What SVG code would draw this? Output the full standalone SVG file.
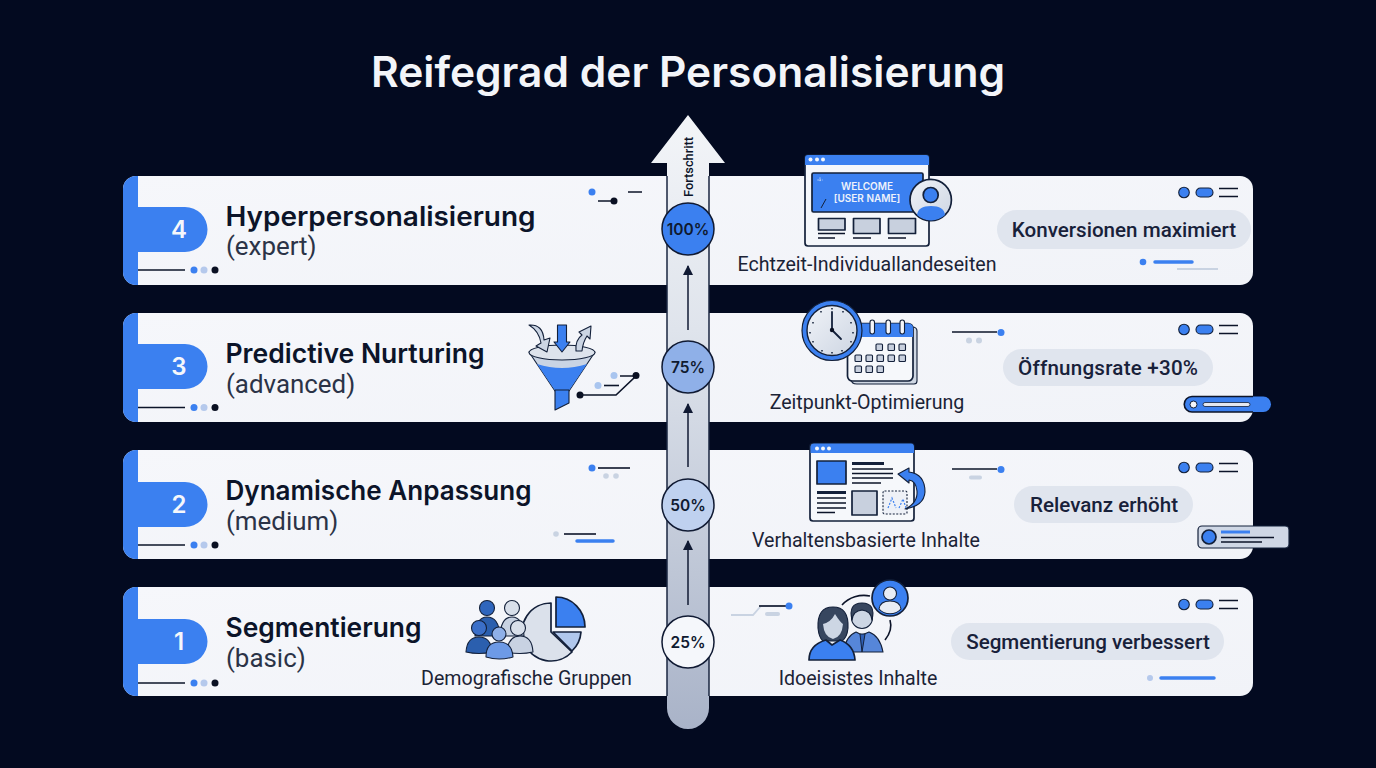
<svg xmlns="http://www.w3.org/2000/svg" xmlns:xlink="http://www.w3.org/1999/xlink" width="1376" height="768" viewBox="0 0 1376 768">
<style>
text{font-family:"Inter","Liberation Sans",sans-serif;fill:#0c1429}
.title{font-size:42.5px;font-weight:600;fill:#f3f5f9;text-anchor:middle}
.h{font-size:27px;font-weight:600}
.sub{font-family:"Roboto","Liberation Sans",sans-serif;font-size:25.9px;fill:#2b3347}
.cap{font-family:"Roboto","Liberation Sans",sans-serif;font-size:19.6px;text-anchor:middle;fill:#1b2336}
.res{font-family:"Roboto","Liberation Sans",sans-serif;font-size:20.6px;font-weight:500;text-anchor:middle;fill:#18213a}
.num{font-size:24px;font-weight:600;fill:#f5f7fb;text-anchor:middle}
.pct{font-size:15.5px;font-weight:600;text-anchor:middle;fill:#0f1a30}
.card{fill:url(#cardG)}
.pill{fill:#e0e5ee}
.blue{fill:#3b80f0}
.ln{stroke:#0c1429;stroke-width:1.6;fill:none}
.lnb{stroke:#3b80f0;stroke-width:3.5;stroke-linecap:round;fill:none}
.lnl{stroke:#c9d3e2;stroke-width:1.8;fill:none}
.ic{stroke:#13203a;stroke-width:1.7;stroke-linejoin:round}
.th{stroke-width:1.1}
.dk{fill:#0a1022}
.l1{fill:#3b80f0}.l2{fill:#b5c9ec}.l3{fill:#c8d0de}
</style>
<defs>
<linearGradient id="cardG" x1="0" y1="0" x2="1" y2="1"><stop offset="0" stop-color="#f6f7fb"/><stop offset="1" stop-color="#f1f3f8"/></linearGradient>
<linearGradient id="stem" x1="0" y1="0" x2="0" y2="1"><stop offset="0" stop-color="#f3f5f8"/><stop offset=".35" stop-color="#dfe4ec"/><stop offset="1" stop-color="#a9b3c8"/></linearGradient>
<linearGradient id="cg" x1="0" y1="0" x2="1" y2="1"><stop offset="0" stop-color="#f0f3f8"/><stop offset="1" stop-color="#cdd5e2"/></linearGradient>
<marker id="ah" markerWidth="12" markerHeight="10" refX="9" refY="5" orient="auto" markerUnits="userSpaceOnUse"><path d="M0 0L10 5L0 10Z" fill="#101a33"/></marker>
<g id="tabs"><circle cx="0" cy="0" r="5.300" class="l1 ic th"/><rect x="12" y="-4.500" width="17" height="9" rx="4.500" class="l1 ic th"/><path d="M35-4H54M35 4H54" class="ln"/></g>
<g id="foot"><path d="M138 0H185" class="ln"/><circle cx="194" cy="0" r="3.500" fill="#3b80f0"/><circle cx="204" cy="0" r="3.500" fill="#b5c9ec"/><circle cx="215" cy="0" r="3.500" fill="#0a1022"/></g>
</defs>
<rect width="1376" height="768" fill="#030a20"/>
<text class="title" x="688" y="87">Reifegrad der Personalisierung</text>

<g id="row4">
<rect class="card" x="123" y="176" width="1130" height="109" rx="13"/>
<path class="blue" d="M138 176H136A13 13 0 0 0 123 189V272A13 13 0 0 0 136 285H138V252H185A22.500 22.500 0 0 0 185 207H138Z"/>
<text class="num" x="179" y="238">4</text>
<text class="h" x="225.500" y="225.500" textLength="310" lengthAdjust="spacingAndGlyphs">Hyperpersonalisierung</text>
<text class="sub" x="226" y="255">(expert)</text>
<use xlink:href="#foot" href="#foot" y="270"/>
<circle cx="592" cy="192" r="3.500" fill="#3b80f0"/><path d="M598 201H612M628 192H642" class="ln"/><circle cx="614" cy="201" r="3.500" class="dk"/>
<use xlink:href="#tabs" href="#tabs" x="1184" y="192.500"/>
<rect class="pill" x="997" y="210" width="254" height="39" rx="19.500"/>
<text class="res" x="1124" y="237">Konversionen maximiert</text>
<circle cx="1143" cy="262" r="3.300" fill="#3b80f0"/><path d="M1155 262H1192" class="lnb"/><path d="M1177 269H1218" class="lnl"/>
</g>

<g id="row3">
<rect class="card" x="123" y="313" width="1130" height="109" rx="13"/>
<path class="blue" d="M138 313H136A13 13 0 0 0 123 326V409A13 13 0 0 0 136 422H138V389H185A22.500 22.500 0 0 0 185 344H138Z"/>
<text class="num" x="179" y="375">3</text>
<text class="h" x="225.500" y="362.500" textLength="259" lengthAdjust="spacingAndGlyphs">Predictive Nurturing</text>
<text class="sub" x="226" y="392.500">(advanced)</text>
<use xlink:href="#foot" href="#foot" y="407.500"/>
<use xlink:href="#tabs" href="#tabs" x="1184" y="329.500"/>
<rect class="pill" x="1003" y="349" width="210" height="37" rx="18.500"/>
<text class="res" x="1108" y="375" textLength="180">Öffnungsrate +30%</text>
<path d="M952 332H997" class="ln"/><circle cx="1001" cy="332.500" r="3.500" fill="#3b80f0"/><circle cx="969" cy="340.500" r="3" fill="#c9d3e2"/><circle cx="979" cy="340.500" r="3" fill="#c9d3e2"/>
<rect x="1184" y="396.500" width="87" height="15.500" rx="7.700" class="blue"/><path d="M1253 396.500H1192A7.700 7.700 0 0 0 1192 412H1253" class="ln" stroke-width="1.400"/><circle cx="1193.500" cy="404.500" r="3.500" fill="#f3f5f9" stroke="#13203a"/><rect x="1203" y="402.500" width="47" height="4" rx="2" fill="#e4e8f0" stroke="#13203a" stroke-width=".8"/>
</g>
<g id="row2">
<rect class="card" x="123" y="450" width="1130" height="109" rx="13"/>
<path class="blue" d="M138 450H136A13 13 0 0 0 123 463V546A13 13 0 0 0 136 559H138V527H185A22.500 22.500 0 0 0 185 482H138Z"/>
<text class="num" x="179" y="513">2</text>
<text class="h" x="225.500" y="499.500" textLength="306" lengthAdjust="spacingAndGlyphs">Dynamische Anpassung</text>
<text class="sub" x="226" y="529.500">(medium)</text>
<use xlink:href="#foot" href="#foot" y="545"/>
<circle cx="592" cy="468" r="3.500" fill="#3b80f0"/><path d="M598 468H630" class="ln"/><circle cx="606" cy="476" r="2.800" fill="#c9d3e2"/><circle cx="616" cy="476" r="2.800" fill="#c9d3e2"/>
<use xlink:href="#tabs" href="#tabs" x="1184" y="467.500"/>
<rect class="pill" x="1014" y="486" width="179" height="37" rx="18.500"/>
<text class="res" x="1104" y="512">Relevanz erhöht</text>
<path d="M952 469H997" class="ln"/><circle cx="1001" cy="469.500" r="3.500" fill="#3b80f0"/><rect x="969" y="475.500" width="13" height="4" rx="2" fill="#c9d3e2"/>
<circle cx="556" cy="534" r="2.800" fill="#c9d3e2"/><path d="M564 534H596" class="ln"/><path d="M577 541H613" class="lnb"/>
<rect x="1198" y="526" width="91" height="22" rx="4" fill="#cfd7e5" stroke="#13203a" stroke-width="1.200"/><circle cx="1209" cy="537" r="7" class="l1 ic"/><path d="M1221 532H1250" stroke="#3b80f0" stroke-width="3"/><path d="M1221 537.500H1274M1221 542H1262" class="ln" stroke-width="1.200"/>
</g>
<g id="row1">
<rect class="card" x="123" y="587" width="1130" height="109" rx="13"/>
<path class="blue" d="M138 587H136A13 13 0 0 0 123 600V683A13 13 0 0 0 136 696H138V664H185A22.500 22.500 0 0 0 185 619H138Z"/>
<text class="num" x="179" y="650">1</text>
<text class="h" x="225.500" y="636.500" textLength="196" lengthAdjust="spacingAndGlyphs">Segmentierung</text>
<text class="sub" x="226" y="667">(basic)</text>
<use xlink:href="#foot" href="#foot" y="683"/>
<use xlink:href="#tabs" href="#tabs" x="1184" y="604.500"/>
<rect class="pill" x="951" y="623" width="273" height="37" rx="18.500"/>
<text class="res" x="1088" y="649">Segmentierung verbessert</text>
<circle cx="1150" cy="678" r="3" fill="#b5c9ec"/><path d="M1161 678H1214" class="lnb"/>
<path d="M731 615H753L761 606H786" class="lnl"/><path d="M759 606H786" class="ln"/><circle cx="789" cy="606" r="3.500" fill="#3b80f0"/><rect x="765" y="612" width="15" height="4" rx="2" fill="#c9d3e2"/>
</g>

<g id="progress-arrow">
<path d="M667 708V163H651L688 115L725 163H709V708A21 21 0 0 1 667 708Z" fill="url(#stem)"/>
<path d="M667 176V696M709 176V696" fill="none" stroke="#1a2640" stroke-width="1.500"/>
<text transform="translate(692.500 197) rotate(-90)" textLength="60" lengthAdjust="spacingAndGlyphs" style="font-family:Roboto,sans-serif;font-size:13px;font-weight:500">Fortschritt</text>
</g>
<g id="connectors">
<path d="M688 330V266" stroke="#101a33" stroke-width="1.500" marker-end="url(#ah)"/>
<path d="M688 467V404" stroke="#101a33" stroke-width="1.500" marker-end="url(#ah)"/>
<path d="M688 605V541" stroke="#101a33" stroke-width="1.500" marker-end="url(#ah)"/>
</g>
<g id="m100"><circle cx="688" cy="229" r="26" fill="#3b80f0" stroke="#101a33" stroke-width="1.500"/><text class="pct" x="688" y="234.500">100%</text></g>
<g id="m75"><circle cx="688" cy="367" r="26" fill="#8fb0e8" stroke="#101a33" stroke-width="1.500"/><text class="pct" x="688" y="372.500">75%</text></g>
<g id="m50"><circle cx="688" cy="505" r="26" fill="#bfd1ef" stroke="#101a33" stroke-width="1.500"/><text class="pct" x="688" y="510.500">50%</text></g>
<g id="m25"><circle cx="688" cy="642" r="26" fill="#f5f7fb" stroke="#101a33" stroke-width="1.500"/><text class="pct" x="688" y="647.500">25%</text></g>

<g id="icon-landing">
<rect x="805" y="155" width="124" height="91" rx="3" fill="#f5f7fb" class="ic"/>
<path d="M805 165V158Q805 155 808 155H926Q929 155 929 158V165Z" class="l1"/>
<circle cx="810.500" cy="159.500" r="2" fill="#f5f7fb"/><circle cx="817" cy="159.500" r="2" fill="#f5f7fb"/><circle cx="823" cy="159.500" r="2" fill="#f5f7fb"/>
<rect x="812" y="173" width="111" height="39" rx="1.500" class="l1 ic"/>
<path d="M820 177.500V182M817.500 180H822.500" stroke="#dbe6fb" stroke-width="1" stroke-dasharray="1.200 1"/><path d="M821 208L826 199" stroke="#13203a" stroke-width="1"/>
<text x="867" y="190" style="font-size:10px;font-weight:600;fill:#eef2fb;text-anchor:middle">WELCOME</text>
<text x="867" y="202" style="font-size:10px;font-weight:600;fill:#eef2fb;text-anchor:middle">[USER NAME]</text>
<rect x="818.500" y="218.500" width="26.500" height="11.500" class="l3 ic"/><rect x="853.500" y="218.500" width="26.500" height="15" class="l3 ic"/><rect x="888.500" y="218.500" width="27" height="15" class="l3 ic"/>
<path d="M818 233.500H845M818 238H835M853 238H871M888 238H906" class="ln"/>
<circle cx="930.700" cy="200" r="20.700" fill="url(#cg)" class="ic"/>
<circle cx="930.700" cy="195" r="7.500" class="l1 ic"/>
<path d="M917 215Q918 206 931 206Q944 206 945 215A20.700 20.700 0 0 1 917 215Z" class="l1"/>
</g>
<g id="icon-funnel">
<path d="M529 352H595L569 391H555Z" fill="#c9d4e4" class="ic th"/>
<path d="M537 364Q562 372 587 364L569 390.500H555Z" class="l1"/>
<ellipse cx="562" cy="352.500" rx="33" ry="7.500" fill="#dde3ec" class="ic th"/>
<path d="M555 390H569V403L555 410Z" class="l1 ic th"/>
<path d="M557.500 325H566.500V342H570L562 352L554 342H557.500Z" class="l1 ic th"/>
<path d="M529 325Q543 324 544 340L550 338L547 352L536 346L541 343Q539 331 529 325Z" fill="#cbd5e4" class="ic th"/>
<path d="M576 351Q575 340 582 335L579 332L591 326L590 339L587 336Q583 342 582 351Z" fill="#cbd5e4" class="ic th"/>
<circle cx="580" cy="395" r="3.500" class="dk"/><path d="M580 395H616L636 376H620" class="ln"/><circle cx="636" cy="375.500" r="3.500" class="dk"/>
<circle cx="614" cy="375.500" r="3.500" fill="#a9c5ef"/><circle cx="598" cy="385.500" r="3.500" fill="#a9c5ef"/><path d="M604 385.500H619" class="ln"/>
</g>
<g id="icon-time">
<path d="M851 327H912Q917 327 917 331V381Q917 384 914 384H857Q851 384 851 379Z" fill="#cfd7e3" class="ic th"/>
<rect x="847.500" y="323.500" width="65.500" height="57.500" rx="5" fill="#f6f8fb" class="ic"/>
<path d="M860 323.500H908Q913 323.500 913 328V337H858Z" class="l1"/>
<rect x="870" y="320" width="4.500" height="14" rx="2.200" fill="#f5f7fb" class="ic th"/><rect x="886" y="320" width="4.500" height="14" rx="2.200" fill="#f5f7fb" class="ic th"/><rect x="900" y="320" width="4.500" height="14" rx="2.200" fill="#f5f7fb" class="ic th"/>
<g class="l3 ic th"><rect x="876" y="344" width="6.500" height="6.500" rx="1"/><rect x="888" y="344" width="6.500" height="6.500" rx="1"/><rect x="899" y="344" width="6.500" height="6.500" rx="1"/><rect x="855" y="355" width="6.500" height="6.500" rx="1"/><rect x="866" y="355" width="6.500" height="6.500" rx="1"/><rect x="877" y="355" width="6.500" height="6.500" rx="1"/><rect x="888" y="355" width="6.500" height="6.500" rx="1"/><rect x="899" y="355" width="6.500" height="6.500" rx="1"/><rect x="855" y="366" width="6.500" height="6.500" rx="1"/><rect x="866" y="366" width="6.500" height="6.500" rx="1"/><rect x="877" y="366" width="6.500" height="6.500" rx="1"/></g>
<circle cx="832" cy="330.500" r="30" fill="#3b80f0" stroke="#13203a" stroke-width="1.200"/>
<circle cx="832" cy="330.500" r="25" fill="url(#cg)" stroke="#13203a" stroke-width="1.400"/>
<path d="M832 330V312M832 330L841 339" stroke="#13203a" stroke-width="1.800" stroke-linecap="round"/><circle cx="832" cy="330" r="2.200" class="dk"/>
<path d="M832 308V309.500M843 311V312.500M851 322V323.500M853 332V333.500M851 341V342.500M842 350V351.500M832 352V353.500M822 350V351.500M813 341V342.500M810 332V333.500M813 322V323.500M821 311V312.500" stroke="#13203a" stroke-width="1.500"/>
</g>
<g id="icon-content">
<rect x="810" y="443.500" width="104" height="77.500" rx="3" fill="#f6f8fb" class="ic"/>
<path d="M810.500 453V447Q810.500 443.500 814 443.500H911Q914 443.500 914 447V453Z" class="l1"/>
<circle cx="817" cy="448.500" r="2" fill="#f5f7fb"/><circle cx="823" cy="448.500" r="2" fill="#f5f7fb"/><circle cx="829" cy="448.500" r="2" fill="#f5f7fb"/>
<rect x="817" y="461" width="29" height="23" class="l1 ic"/>
<path d="M852 463.500H884" stroke="#13203a" stroke-width="3"/>
<path d="M852 469H893M852 473.500H893M852 478H893M852 483H881M817 498H846M817 503H846M817 508H846M817 512.500H835" class="ln" stroke-width="1.300"/><path d="M817 492.500H846" stroke="#13203a" stroke-width="3"/>
<rect x="852" y="491" width="25" height="24" class="l3 ic"/>
<rect x="883" y="491" width="24" height="23" rx="1.500" fill="#eef1f7" class="ic th" stroke-dasharray="2 1.500"/>
<path d="M888 508L892 498L896 508M899 508L903 499L906 508" fill="none" stroke="#3b80f0" stroke-width="1.200" stroke-dasharray="2 1.500"/>
<path d="M898 474L909 468V472Q925 474 925 492Q924 506 905 509Q918 503 917 491Q916 481 909 480V483Z" class="l1 ic th"/>
</g>
<g id="icon-people">
<path d="M842 605A30 30 0 0 1 870 596M890 620Q893 630 885 640" fill="none" class="ln"/>
<path d="M843 652Q846 636 856 632L862 635L869 632Q880 636 883 652Z" fill="#5686d9" class="ic th"/>
<circle cx="862" cy="618" r="10.500" fill="#cdd6e4" class="ic th"/><path d="M852 620Q848 603 862 603Q876 603 872 620Q871 611 862 610Q853 611 852 620Z" fill="#37465f" class="ic th"/>
<path d="M860 634L862 652L865 634Z" fill="#2f5fb5" stroke="#13203a"/>
<path d="M818 628Q817 607 833 607Q849 607 848 628Q847 638 842 641H823Q819 638 818 628Z" fill="#37465f" class="ic th"/>
<path d="M823 624Q831 622 835 614Q840 622 843 624Q842 637 833 639Q824 637 823 624Z" fill="#cdd6e4"/>
<path d="M809 660Q809 645 826 640L832 645L840 640Q854 645 855 660Z" class="l1 ic"/>
<circle cx="890" cy="598" r="18" class="l1 ic"/>
<circle cx="890" cy="593.500" r="6.500" fill="#e8ecf4" class="ic th"/>
<path d="M879 609Q880 601 890 601Q900 601 901 609A15 15 0 0 1 879 609Z" fill="#e8ecf4" class="ic th"/>
</g>
<g id="icon-demo">
<path d="M551 603V632L572 652A29 29 0 1 1 551 603Z" fill="#dbe1eb" class="ic"/>
<path d="M556 597A29 30 0 0 1 585 627H556Z" class="l1 ic"/>
<path d="M553 632H581A29 29 0 0 1 572 651Z" fill="#b0c7ec" class="ic"/>
<path d="M475 636Q476 617 487 617Q499 617 500 636Z" fill="#2b5fae" class="ic th"/>
<circle cx="487" cy="608" r="7.500" fill="#2f66bd" class="ic th"/>
<path d="M500 636Q501 617 512 617Q523 617 524 636Z" fill="#c8d2e2" class="ic th"/>
<circle cx="512" cy="608" r="7.500" fill="#d8dfea" class="ic th"/>
<path d="M466 652Q467 637 479 637Q491 637 492 652Q479 655 466 652Z" fill="#2b5fae" class="ic th"/>
<circle cx="479" cy="628" r="7.500" fill="#3b6fc8" class="ic th"/>
<path d="M507 652Q508 636 520 636Q532 636 533 652Q520 655 507 652Z" fill="#c8d2e2" class="ic th"/>
<circle cx="518" cy="628" r="7.500" fill="#d8dfea" class="ic th"/>
<path d="M486 657Q486 642 499 642Q512 642 513 657Q499 661 486 657Z" fill="#6d9ae6" class="ic th"/>
<circle cx="499" cy="634" r="7" fill="#8fb0e8" class="ic th"/>
</g>
<g id="captions">
<text class="cap" x="526.500" y="684.500">Demografische Gruppen</text>
<text class="cap" x="858" y="684.500">Idoeisistes Inhalte</text>
<text class="cap" x="866" y="546.500">Verhaltensbasierte Inhalte</text>
<text class="cap" x="867" y="408.500">Zeitpunkt-Optimierung</text>
<text class="cap" x="867" y="270.500">Echtzeit-Individuallandeseiten</text>
</g>
</svg>
